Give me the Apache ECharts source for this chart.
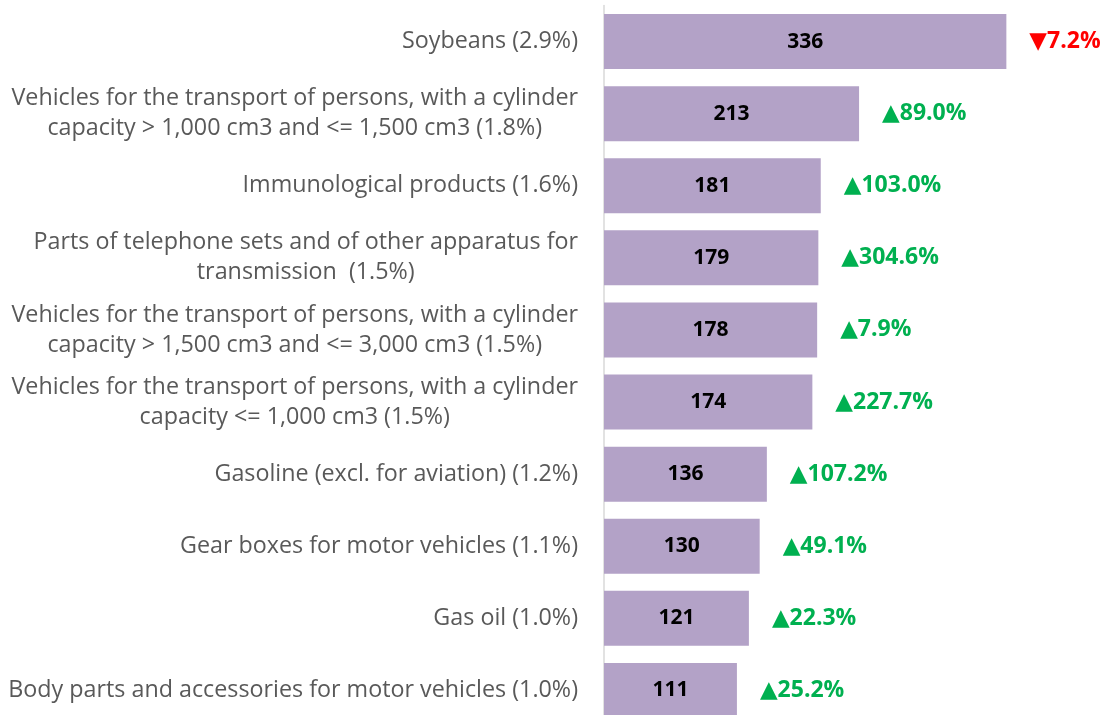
<!DOCTYPE html>
<html>
<head>
<meta charset="utf-8">
<script src="https://cdn.jsdelivr.net/npm/echarts@6/dist/echarts.min.js"></script>
<style>
  html, body { margin: 0; padding: 0; background: #fff; }
  #chart { width: 1111px; height: 715px; }
</style>
</head>
<body>
<div id="chart"></div>
<script>
const categories = [
  'Soybeans (2.9%)',
  'Vehicles for the transport of persons, with a cylinder\ncapacity > 1,000 cm3 and <= 1,500 cm3 (1.8%)',
  'Immunological products (1.6%)',
  'Parts of telephone sets and of other apparatus for\ntransmission  (1.5%)',
  'Vehicles for the transport of persons, with a cylinder\ncapacity > 1,500 cm3 and <= 3,000 cm3 (1.5%)',
  'Vehicles for the transport of persons, with a cylinder\ncapacity <= 1,000 cm3 (1.5%)',
  'Gasoline (excl. for aviation) (1.2%)',
  'Gear boxes for motor vehicles (1.1%)',
  'Gas oil (1.0%)',
  'Body parts and accessories for motor vehicles (1.0%)'
];
const values = [336, 213, 181, 179, 178, 174, 136, 130, 121, 111];
const changes = [-7.2, 89.0, 103.0, 304.6, 7.9, 227.7, 107.2, 49.1, 22.3, 25.2];

const font = '"Open Sans", "DejaVu Sans", sans-serif';

let myChart = echarts.init(document.getElementById('chart'));
let option = {
  animation: false,
  grid: { left: 604, top: 5.5, width: 479, height: 721, containLabel: false, outerBoundsMode: 'none' },
  xAxis: { type: 'value', min: 0, max: 400, show: false, splitLine: { show: false } },
  yAxis: {
    type: 'category',
    inverse: true,
    data: categories,
    axisTick: { show: false },
    axisLine: { show: true, lineStyle: { color: '#D9D9D9', width: 1.5 } },
    axisLabel: {
      align: 'right',
      margin: 26,
      formatter: function (v) {
        return v.split('\n').map(function (l) { return '{c|' + l + '}'; }).join('\n');
      },
      rich: {
        c: { align: 'center', fontFamily: font, fontSize: 23.3, color: '#595959', lineHeight: 30 }
      }
    }
  },
  series: [
    {
      name: 'value',
      type: 'bar',
      data: values,
      barWidth: 55,
      itemStyle: { color: '#B3A2C7' },
      label: {
        show: true,
        position: 'inside',
        color: '#000',
        fontFamily: font,
        fontWeight: 'bold',
        fontSize: 21
      }
    },
    {
      name: 'change',
      type: 'bar',
      data: values,
      barWidth: 55,
      barGap: '-100%',
      silent: true,
      itemStyle: { color: 'rgba(0,0,0,0)' },
      label: {
        show: true,
        position: 'right',
        distance: 23,
        formatter: function (p) {
          const c = changes[p.dataIndex];
          return c < 0 ? '{r|▼' + Math.abs(c).toFixed(1) + '%}' : '{g|▲' + c.toFixed(1) + '%}';
        },
        rich: {
          r: { color: '#FF0000', fontFamily: font, fontWeight: 'bold', fontSize: 23 },
          g: { color: '#00B050', fontFamily: font, fontWeight: 'bold', fontSize: 23 }
        }
      }
    }
  ]
};
option && myChart.setOption(option);
</script>
</body>
</html>
